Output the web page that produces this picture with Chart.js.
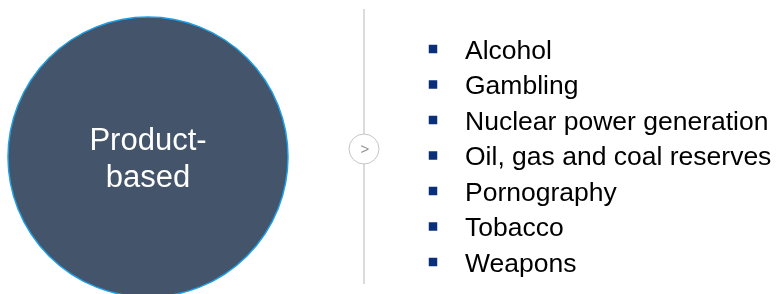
<!DOCTYPE html>
<html lang="en">
<head>
<meta charset="utf-8">
<title>Product-based exclusions</title>
<script src="https://cdn.jsdelivr.net/npm/chart.js"></script>
<style>
  html, body { margin: 0; padding: 0; background: #fff; }
  #wrap { width: 776px; height: 294px; }
</style>
</head>
<body>
<div id="wrap">
  <canvas id="myChart" width="776" height="294"></canvas>
</div>
<script>
  // content
  const title_lines = ['Product-', 'based'];
  const items = [
    'Alcohol',
    'Gambling',
    'Nuclear power generation',
    'Oil, gas and coal reserves',
    'Pornography',
    'Tobacco',
    'Weapons'
  ];
  const arrow_text = '>';

  // layout (pixels of the 776x294 page)
  const W = 776, H = 294;
  const big_circle = { x: 148, y: 157, r: 140 };
  const small_circle = { x: 364, y: 149, r: 15 };
  const divider = { x: 364, top: 9, bottom: 284 };
  const list_x = 433, list_top = 49, list_step = 35.5;

  const FONT = '"Liberation Sans", Arial, sans-serif';

  const labelPlugin = {
    id: 'labels',
    afterDatasetsDraw(chart) {
      const ctx = chart.ctx;
      ctx.save();

      // text in the big circle
      const big = chart.getDatasetMeta(0).data[0];
      ctx.fillStyle = '#ffffff';
      ctx.font = '31px ' + FONT;
      ctx.textAlign = 'center';
      ctx.textBaseline = 'alphabetic';
      title_lines.forEach((t, i) => ctx.fillText(t, big.x, big.y - 7 + i * 37));

      // arrow in the small circle
      const sm = chart.getDatasetMeta(1).data[0];
      ctx.fillStyle = '#8f8f8f';
      ctx.font = '15px ' + FONT;
      ctx.textBaseline = 'middle';
      ctx.fillText(arrow_text, sm.x + 1, sm.y + 1);

      // bullet texts
      ctx.fillStyle = '#000000';
      ctx.font = '26.5px ' + FONT;
      ctx.textAlign = 'left';
      ctx.textBaseline = 'alphabetic';
      chart.getDatasetMeta(3).data.forEach((pt, i) => {
        ctx.fillText(items[i], pt.x + 32, pt.y + 9.5);
      });
      ctx.restore();
    }
  };

  const data = {
    datasets: [
      {
        type: 'bubble',
        data: [big_circle],
        backgroundColor: '#44546a',
        borderColor: '#1ea0e6',
        borderWidth: 1.5,
        clip: false,
        order: 0
      },
      {
        type: 'bubble',
        data: [small_circle],
        backgroundColor: '#ffffff',
        borderColor: '#c4c4c4',
        borderWidth: 1,
        clip: false,
        order: 1
      },
      {
        type: 'line',
        data: [{ x: divider.x, y: divider.top }, { x: divider.x, y: divider.bottom }],
        borderColor: '#cfcfcf',
        borderWidth: 1.5,
        pointRadius: 0,
        clip: false,
        order: 2
      },
      {
        type: 'scatter',
        yAxisID: 'yList',
        data: items.map((e, i) => ({ x: list_x, y: i })),
        backgroundColor: '#0a2f7a',
        borderWidth: 0,
        pointStyle: 'rect',
        pointRadius: 6,
        clip: false,
        order: 0
      }
    ]
  };

  const config = {
    type: 'scatter',
    data: data,
    options: {
      responsive: false,
      animation: false,
      events: [],
      layout: { padding: 0, autoPadding: false },
      plugins: { legend: { display: false }, tooltip: { enabled: false } },
      scales: {
        x: { type: 'linear', display: false, min: 0, max: W },
        y: { type: 'linear', display: false, min: 0, max: H, reverse: true },
        yList: {
          type: 'linear', display: false, reverse: true,
          min: -list_top / list_step,
          max: (H - list_top) / list_step
        }
      }
    },
    plugins: [labelPlugin]
  };

  const myChart = new Chart(document.getElementById('myChart'), config);
</script>
</body>
</html>
